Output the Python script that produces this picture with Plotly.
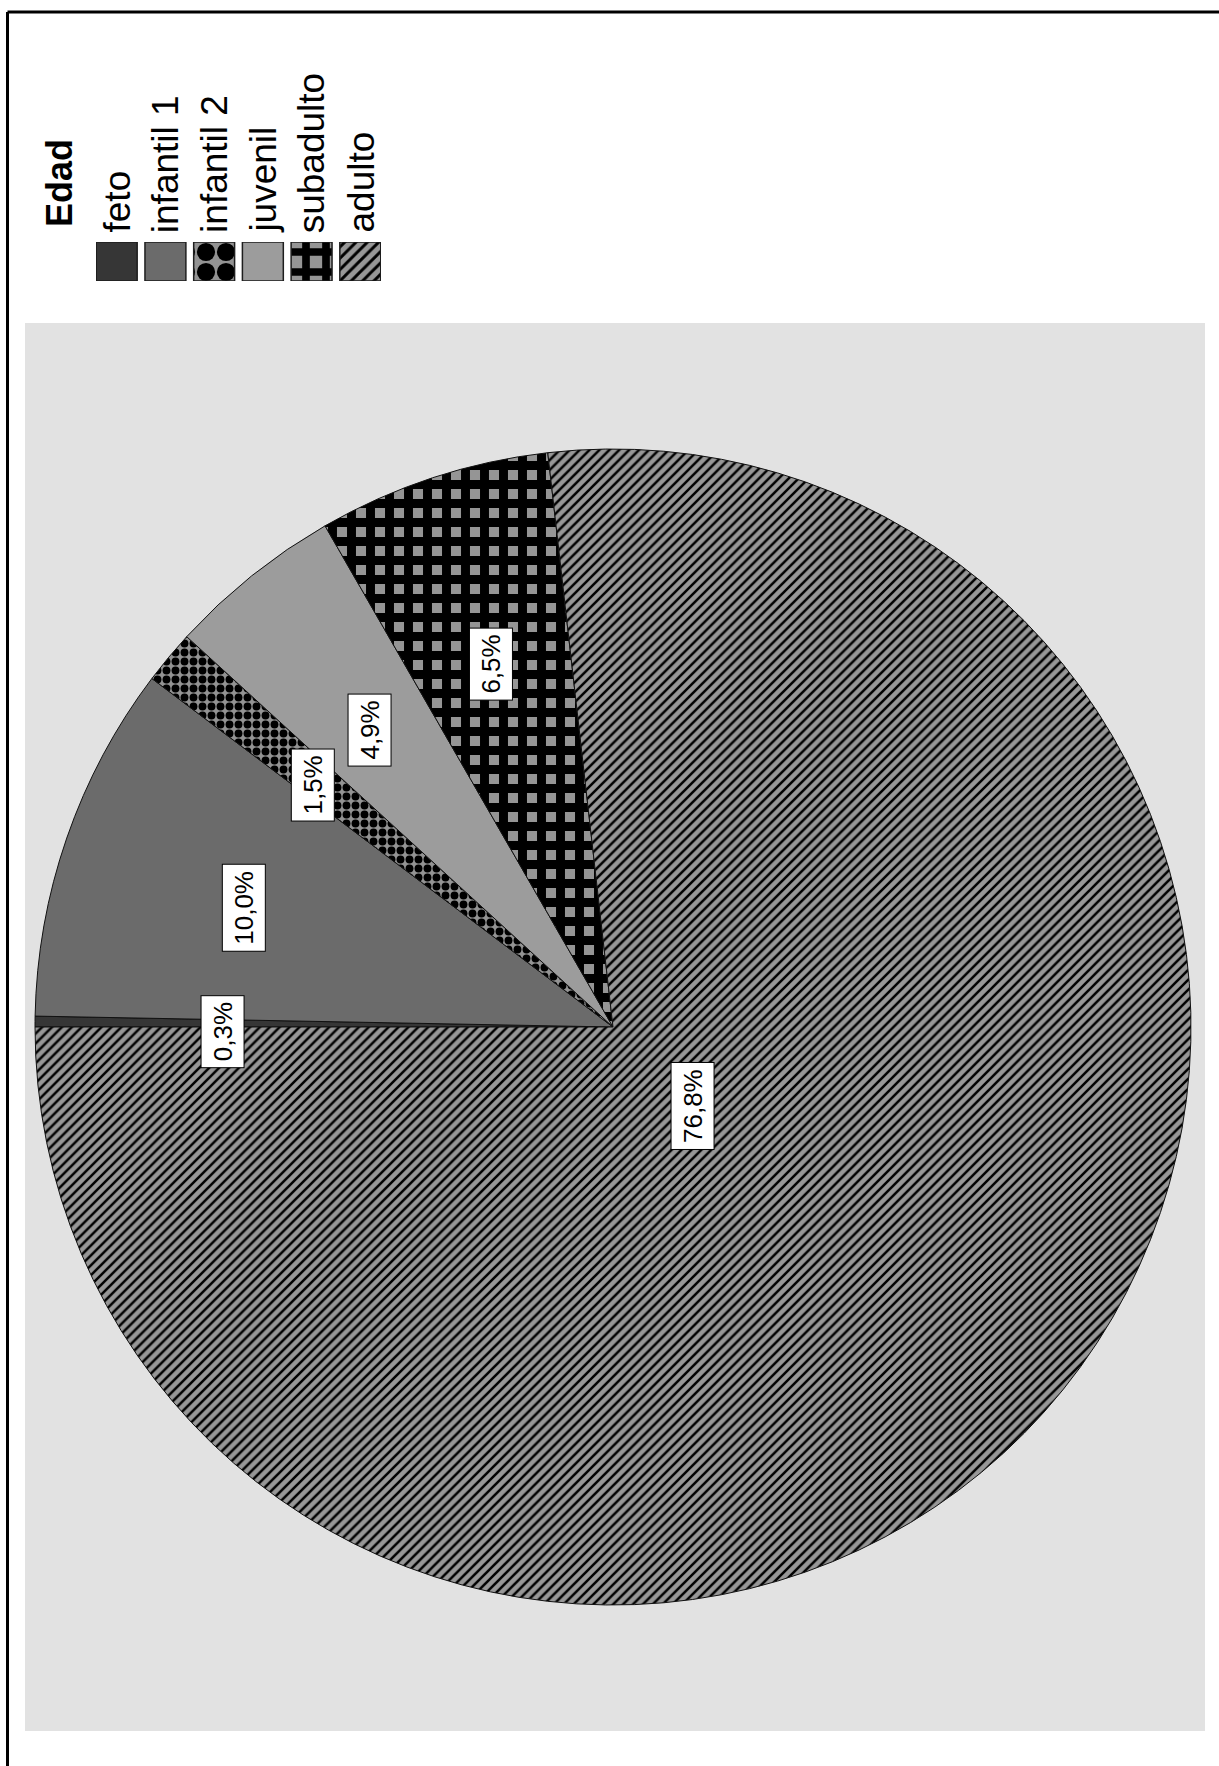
import math
import plotly.graph_objects as go

# Age-class (Edad) distribution of the sample, in percent
categories = ["feto", "infantil 1", "infantil 2", "juvenil", "subadulto", "adulto"]
percentages = [0.3, 10.0, 1.5, 4.9, 6.5, 76.8]
legend_title = "Edad"

# Page size in pixels; helpers convert pixel positions to paper fractions
W, H = 1219, 1766


def fx(px):
    return px / W


def fy(py):
    return 1 - py / H


FONT = "Liberation Sans, Arial, sans-serif"

# Monochrome fills: solid greys, checkerboard, grid of squares, diagonal hatch
base_colors = ["#363636", "#6b6b6b", "#939393", "#9c9c9c", "#959595", "#979797"]
pattern_shapes = ["", "", ".", "", "+", "/"]
pattern_fg = ["#363636", "#6b6b6b", "#000000", "#9c9c9c", "#000000", "#000000"]
pie_pattern_size = [8, 8, 9, 8, 19, 7]
pie_pattern_solidity = [0.3, 0.3, 0.6, 0.3, 0.72, 0.36]
legend_pattern_size = [8, 8, 20, 8, 20, 8]
legend_pattern_solidity = [0.3, 0.3, 0.65, 0.3, 0.62, 0.36]

# Pie geometry (pixels)
CX, CY, R = 613, 1027, 578

fig = go.Figure()

fig.add_trace(go.Pie(
    labels=categories,
    values=percentages,
    sort=False,
    direction="clockwise",
    rotation=270,
    textinfo="none",
    hoverinfo="label+percent",
    showlegend=False,
    domain=dict(x=[fx(CX - R), fx(CX + R)], y=[fy(CY + R), fy(CY - R)]),
    marker=dict(
        colors=base_colors,
        line=dict(color="#111111", width=1),
        pattern=dict(
            shape=pattern_shapes,
            fgcolor=pattern_fg,
            bgcolor=base_colors,
            size=pie_pattern_size,
            solidity=pie_pattern_solidity,
            fillmode="replace",
        ),
    ),
))

# Legend swatches: one small bar per class so each carries its own fill
for i, name in enumerate(categories):
    pat = dict(fillmode="replace")
    if pattern_shapes[i]:
        pat.update(shape=pattern_shapes[i], fgcolor=pattern_fg[i],
                   bgcolor=base_colors[i], size=legend_pattern_size[i],
                   solidity=legend_pattern_solidity[i])
    fig.add_trace(go.Bar(
        x=[name],
        y=[1],
        width=0.84,
        name=name,
        showlegend=False,
        hoverinfo="skip",
        marker=dict(color=base_colors[i],
                    line=dict(color="#1e1e1e", width=1.5),
                    pattern=pat),
    ))

annotations = []

# Legend title and item labels, rotated to read bottom-to-top
annotations.append(dict(
    text=f"<b>{legend_title}</b>", textangle=-90,
    x=fx(60), y=fy(229), xref="paper", yref="paper",
    xanchor="center", yanchor="bottom", showarrow=False,
    font=dict(family=FONT, size=36, color="#000000"),
))
SW_X0, SW_STEP = 116.5, 48.7
for i, name in enumerate(categories):
    annotations.append(dict(
        text=name, textangle=-90,
        x=fx(SW_X0 + 1 + i * SW_STEP), y=fy(235), xref="paper", yref="paper",
        xanchor="center", yanchor="bottom", showarrow=False,
        font=dict(family=FONT, size=37, color="#000000"),
    ))

# Percentage labels placed at each slice's mid-angle
cum = 0.0
for v in percentages:
    mid = (cum + v / 2) / 100.0
    cum += v
    ang = math.radians(180.0 - mid * 360.0)
    rf = 0.185 if v > 50 else 0.675
    lx = CX + rf * R * math.cos(ang)
    ly = CY - rf * R * math.sin(ang) + 8
    annotations.append(dict(
        text=f"{v:.1f}%".replace(".", ","), textangle=-90,
        x=fx(lx), y=fy(ly), xref="paper", yref="paper",
        xanchor="center", yanchor="middle", showarrow=False,
        bgcolor="#ffffff", bordercolor="#000000", borderwidth=1, borderpad=6,
        font=dict(family=FONT, size=26, color="#000000"),
    ))

shapes = [
    # grey chart panel
    dict(type="rect", xref="paper", yref="paper", layer="below",
         x0=fx(25), x1=fx(1205), y0=fy(1731), y1=fy(323),
         fillcolor="#e2e2e2", line=dict(width=0)),
    # outer frame (top and left edges)
    dict(type="line", xref="paper", yref="paper",
         x0=fx(7.5), x1=fx(1219), y0=fy(12), y1=fy(12),
         line=dict(color="#000000", width=3)),
    dict(type="line", xref="paper", yref="paper",
         x0=fx(7.5), x1=fx(7.5), y0=fy(12), y1=fy(1766),
         line=dict(color="#000000", width=3)),
]

fig.update_layout(
    width=W, height=H,
    margin=dict(l=0, r=0, t=0, b=0),
    paper_bgcolor="#ffffff",
    plot_bgcolor="rgba(0,0,0,0)",
    showlegend=False,
    barmode="overlay",
    xaxis=dict(domain=[fx(96), fx(381)], range=[-0.425, 5.425],
               categoryorder="array", categoryarray=categories,
               visible=False, fixedrange=True),
    yaxis=dict(domain=[fy(281), fy(242)], range=[0, 1],
               visible=False, fixedrange=True),
    shapes=shapes,
    annotations=annotations,
    font=dict(family=FONT),
)

fig.write_html("out.html")
